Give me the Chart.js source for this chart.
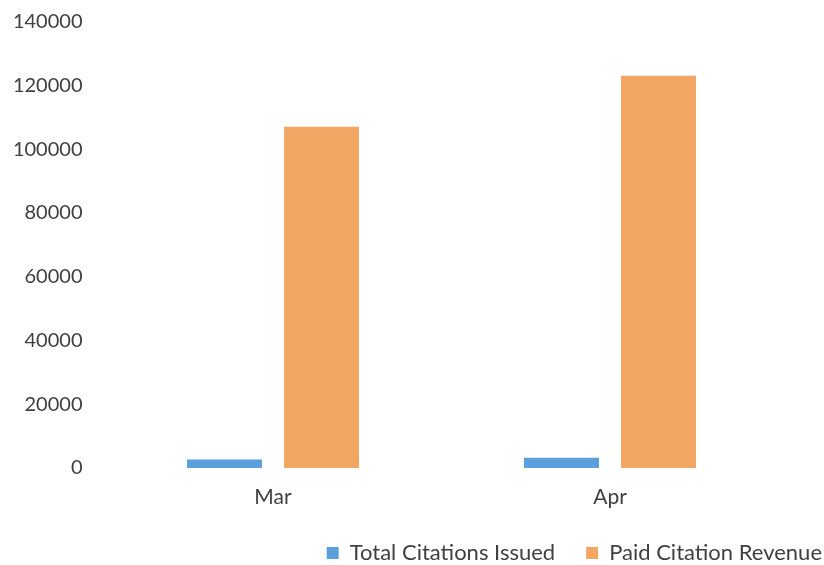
<!DOCTYPE html>
<html>
<head>
<meta charset="utf-8">
<script src="https://cdn.jsdelivr.net/npm/chart.js@4"></script>
<style>
  html, body { margin: 0; padding: 0; background: #fff; }
  #wrap { width: 824px; height: 565px; }
</style>
</head>
<body>
<div id="wrap"><canvas id="chart" width="824" height="565"></canvas></div>
<script>
"use strict";
const MONTHS = ["Mar", "Apr"];
const TOTAL_CITATIONS = [2700, 3200];
const PAID_REVENUE = [107000, 123000];
const Y_TICKS = [0, 20000, 40000, 60000, 80000, 100000, 120000, 140000];

const BLUE = "#5b9fdc";
const ORANGE = "#f2a664";
const TEXT = "#404040";
const FONT = "Lato, 'Open Sans', sans-serif";

new Chart(document.getElementById("chart"), {
  type: "bar",
  data: {
    labels: MONTHS,
    datasets: [
      { label: "Total Citations Issued", data: TOTAL_CITATIONS, backgroundColor: BLUE },
      { label: "Paid Citation Revenue",  data: PAID_REVENUE,    backgroundColor: ORANGE },
    ],
  },
  options: {
    responsive: false,
    animation: false,
    categoryPercentage: 0.576,
    barPercentage: 0.773,
    layout: { padding: { top: 0, left: 8, right: -29, bottom: -9 } },
    plugins: {
      tooltip: { enabled: false },
      legend: {
        position: "bottom",
        align: "end",
        labels: {
          color: TEXT,
          font: { family: FONT, size: 22 },
          boxWidth: 12, boxHeight: 12,
          padding: 31,
        },
      },
    },
    scales: {
      x: {
        grid: { display: false },
        border: { display: false },
        ticks: { color: TEXT, font: { family: FONT, size: 21 }, padding: 9 },
        afterFit: axis => { axis.height = 43; },
      },
      y: {
        min: 0, max: 140000,
        afterBuildTicks: axis => { axis.ticks = Y_TICKS.map(v => ({ value: v })); },
        grid: { display: false },
        border: { display: false },
        ticks: { color: TEXT, font: { family: FONT, size: 20, lineHeight: 0.75 }, padding: 14, callback: v => String(v) },
        afterFit: axis => { axis.width = 96.5; },
      },
      // spacer on the right so the plot ends where the reference does
      y2: {
        position: "right",
        grid: { display: false },
        border: { display: false },
        ticks: { display: false },
        afterFit: axis => { axis.width = 74.5; },
      },
    },
  },
});
</script>
</body>
</html>
